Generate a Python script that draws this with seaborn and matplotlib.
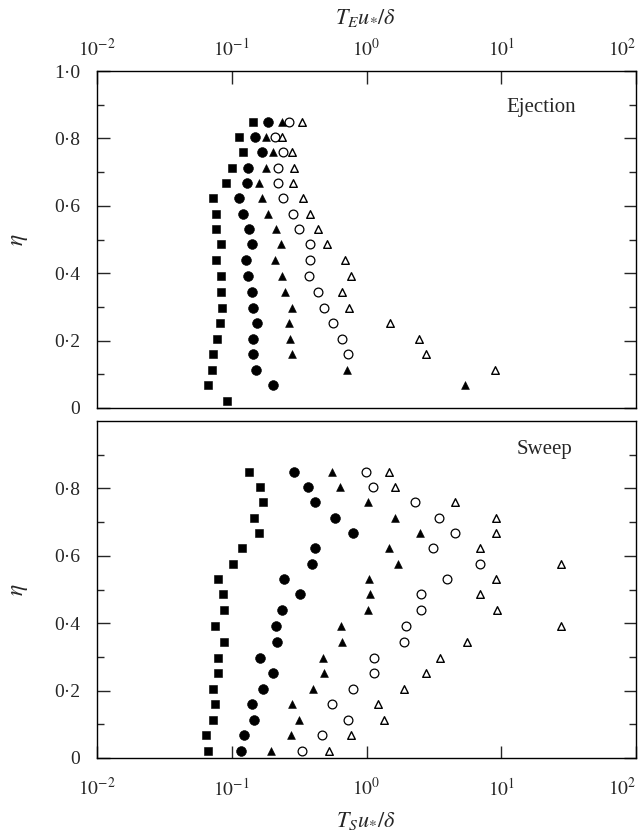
import numpy as np
import pandas as pd
import matplotlib
matplotlib.use("Agg")
import matplotlib.pyplot as plt
import seaborn as sns
from matplotlib.ticker import FixedLocator, FixedFormatter, NullLocator

# ---------------- data ----------------
eta = [0.85, 0.805, 0.76, 0.713, 0.667, 0.622, 0.577, 0.531, 0.486, 0.44,
       0.392, 0.345, 0.297, 0.251, 0.205, 0.159, 0.114, 0.068, 0.021]

# Ejection panel (T_E u*/delta)
ej_square = [0.145, 0.114, 0.121, 0.100, 0.090, 0.072, 0.076, 0.077, 0.083, 0.076,
             0.083, 0.083, 0.084, 0.082, 0.078, 0.072, 0.071, 0.067, 0.092]
ej_circle = [0.187, 0.149, 0.167, 0.132, 0.129, 0.113, 0.121, 0.135, 0.141, 0.127,
             0.133, 0.142, 0.145, 0.153, 0.143, 0.145, 0.152, 0.202, np.nan]
ej_triangle = [0.235, 0.179, 0.204, 0.179, 0.158, 0.167, 0.187, 0.214, 0.231, 0.210,
               0.238, 0.249, 0.279, 0.264, 0.272, 0.279, 0.716, 5.38, np.nan]
ej_open_circle = [0.268, 0.210, 0.242, 0.219, 0.222, 0.242, 0.287, 0.313, 0.378, 0.378,
                  0.372, 0.436, 0.486, 0.560, 0.657, 0.729, np.nan, np.nan, np.nan]
ej_open_triangle = [0.335, 0.238, 0.279, 0.291, 0.287, 0.337, 0.378, 0.434, 0.509, 0.696,
                    0.767, 0.657, 0.737, 1.49, 2.45, 2.75, 8.97, np.nan, np.nan]

# Sweep panel (T_S u*/delta)
sw_square = [0.135, 0.162, 0.170, 0.147, 0.158, 0.119, 0.103, 0.0796, 0.0867, 0.0877,
             0.0752, 0.0882, 0.0787, 0.0787, 0.0731, 0.0752, 0.0722, 0.0641, 0.0663]
sw_circle = [0.291, 0.367, 0.417, 0.587, 0.789, 0.412, 0.393, 0.246, 0.322, 0.238,
             0.212, 0.216, 0.162, 0.201, 0.172, 0.141, 0.147, 0.124, 0.117]
sw_triangle = [0.554, 0.639, 1.026, 1.619, 2.513, 1.462, 1.715, 1.049, 1.055, 1.02,
               0.650, 0.657, 0.472, 0.486, 0.398, 0.279, 0.317, 0.275, 0.196]
sw_open_circle = [0.992, 1.118, 2.307, 3.44, 4.52, 3.104, 6.94, 3.968, 2.557, 2.557,
                  1.979, 1.890, 1.131, 1.131, 0.794, 0.554, 0.724, 0.467, 0.335]
sw_open_triangle = [1.462, 1.638, 4.52, 9.1, 9.1, 6.9, 27.7, 9.2, 6.9, 9.3,
                    27.7, 5.6, 3.53, 2.786, 1.890, 1.218, 1.342, 0.771, 0.523]

series = ["square", "circle", "triangle", "open circle", "open triangle"]

x_ticks = [1e-2, 1e-1, 1e0, 1e1, 1e2]
x_ticklabels = [r"$10^{-2}$", r"$10^{-1}$", r"$10^{0}$", r"$10^{1}$", r"$10^{2}$"]
y_ticks_top = [0, 0.2, 0.4, 0.6, 0.8, 1.0]
y_ticklabels_top = ["0", "0\u00b72", "0\u00b74", "0\u00b76", "0\u00b78", "1\u00b70"]
y_ticks_bot = [0, 0.2, 0.4, 0.6, 0.8]
y_ticklabels_bot = ["0", "0\u00b72", "0\u00b74", "0\u00b76", "0\u00b78"]
y_minor = [0.1, 0.3, 0.5, 0.7, 0.9]

def long_frame(cols):
    frames = []
    for name, vals in zip(series, cols):
        frames.append(pd.DataFrame({"eta": eta, "value": vals, "series": name}))
    return pd.concat(frames, ignore_index=True).dropna()

df_ej = long_frame([ej_square, ej_circle, ej_triangle, ej_open_circle, ej_open_triangle])
df_sw = long_frame([sw_square, sw_circle, sw_triangle, sw_open_circle, sw_open_triangle])

# ---------------- style ----------------
sns.set_style("ticks")
plt.rcParams["font.family"] = ["Liberation Serif", "DejaVu Serif"]
plt.rcParams["mathtext.fontset"] = "stix"

styles = {
    "square": dict(marker="s", s=36, color="black", edgecolor="black", linewidth=0.4),
    "circle": dict(marker="o", s=50, color="black", edgecolor="black", linewidth=0.4),
    "triangle": dict(marker="^", s=32, color="black", edgecolor="black", linewidth=0.4),
    "open circle": dict(marker="o", s=40, facecolor="white", edgecolor="black", linewidth=0.9),
    "open triangle": dict(marker="^", s=30, facecolor="white", edgecolor="black", linewidth=1.0),
}

fig = plt.figure(figsize=(6.41, 8.36), dpi=100)
L, W, H = 97 / 641, 539 / 641, 337 / 836
ax_top = fig.add_axes([L, 1 - 408 / 836, W, H])
ax_bot = fig.add_axes([L, 1 - 758 / 836, W, H])

for ax, df in ((ax_top, df_ej), (ax_bot, df_sw)):
    for name in series:
        sub = df[df["series"] == name]
        sns.scatterplot(data=sub, x="value", y="eta", ax=ax, legend=False,
                        zorder=3, clip_on=False, **styles[name])
    ax.set_xscale("log")
    ax.set_xlim(1e-2, 1e2)
    ax.set_ylim(0, 1.0)
    ax.xaxis.set_major_locator(FixedLocator(x_ticks))
    ax.xaxis.set_major_formatter(FixedFormatter(x_ticklabels))
    ax.xaxis.set_minor_locator(NullLocator())
    ax.yaxis.set_minor_locator(FixedLocator(y_minor))
    for sp in ax.spines.values():
        sp.set_visible(True)
        sp.set_linewidth(1.0)
        sp.set_color("black")
    ax.tick_params(axis="y", which="major", direction="in", length=9, width=1.0,
                   left=True, right=True, labelleft=True, labelright=False,
                   labelsize=14, pad=12)
    ax.tick_params(axis="y", which="minor", direction="in", length=5, width=1.0,
                   left=True, right=True)
    ax.set_xlabel("")
    ax.set_ylabel(r"$\eta$", fontsize=17)
    ax.yaxis.set_label_coords(-0.125, 0.5)

# top panel
ax_top.yaxis.set_major_locator(FixedLocator(y_ticks_top))
ax_top.yaxis.set_major_formatter(FixedFormatter(y_ticklabels_top))
ax_top.tick_params(axis="x", which="major", direction="in", length=9, width=1.0,
                   top=True, bottom=False, labeltop=True, labelbottom=False,
                   labelsize=14, pad=8)
ax_top.text(0.824, 0.893, "Ejection", transform=ax_top.transAxes,
            ha="center", va="center", fontsize=15)

# bottom panel
ax_bot.yaxis.set_major_locator(FixedLocator(y_ticks_bot))
ax_bot.yaxis.set_major_formatter(FixedFormatter(y_ticklabels_bot))
ax_bot.tick_params(axis="x", which="major", direction="in", length=9, width=1.0,
                   top=False, bottom=True, labeltop=False, labelbottom=True,
                   labelsize=14, pad=14)
ax_bot.text(0.831, 0.914, "Sweep", transform=ax_bot.transAxes,
            ha="center", va="center", fontsize=15)

# keep the last decade label inside the figure edge
fig.canvas.draw()
for ax in (ax_top, ax_bot):
    labs = ax.get_xticklabels(which="major")
    if labs:
        labs[-1].set_horizontalalignment("right")

fig.text(366 / 641, 1 - 18 / 836, r"$T_E u_{*}/\delta$", ha="center", va="center", fontsize=16)
fig.text(366 / 641, 1 - 821 / 836, r"$T_S u_{*}/\delta$", ha="center", va="center", fontsize=16)

fig.savefig("out.png", dpi=100)
